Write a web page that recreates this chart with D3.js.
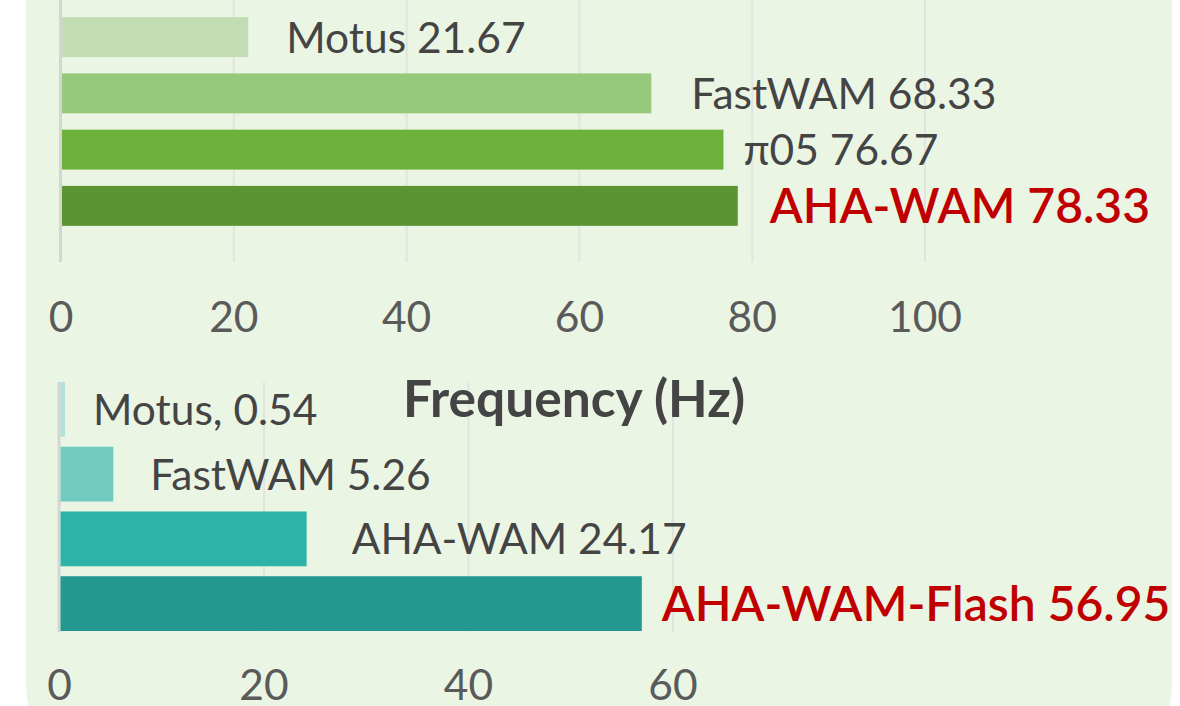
<!DOCTYPE html>
<html>
<head>
<meta charset="utf-8">
<script src="https://cdn.jsdelivr.net/npm/d3@7"></script>
<style>
  body { margin: 0; background: #fff; }
  svg { display: block; font-family: Lato, 'Open Sans', sans-serif; }
</style>
</head>
<body>
<svg class="graph"></svg>
<script>
// top chart: success (%)
const topNames = ['Motus', 'FastWAM', 'π05', 'AHA-WAM'];
const topValues = [21.67, 68.33, 76.67, 78.33];
const topLabels = ['Motus 21.67', 'FastWAM 68.33', 'π05 76.67', 'AHA-WAM 78.33'];
const topColors = ['#c2ddb4', '#96c97b', '#6db13d', '#5b9432'];
const topTicks = [0, 20, 40, 60, 80, 100];

// bottom chart: frequency (Hz)
const botNames = ['Motus', 'FastWAM', 'AHA-WAM', 'AHA-WAM-Flash'];
const botValues = [0.54, 5.26, 24.17, 56.95];
const botLabels = ['Motus, 0.54', 'FastWAM 5.26', 'AHA-WAM 24.17', 'AHA-WAM-Flash 56.95'];
const botColors = ['#b3e0dc', '#72cbc1', '#2db3a7', '#23988e'];
const botTicks = [0, 20, 40, 60];

const axisTitle = 'Frequency (Hz)';

const width = 1180;
const height = 706;
const svg = d3.select('.graph').attr('width', width).attr('height', height);

// panel
svg.append('rect')
  .attr('x', 26).attr('y', -200)
  .attr('width', 1146).attr('height', 985)
  .attr('rx', 100)
  .attr('fill', '#eaf5e3');

function drawChart(opts) {
  const { names, values, labels, colors, ticks, x, yRange, padIn, gridTop, gridBottom, tickY, gaps } = opts;
  const g = svg.append('g');
  const y = d3.scaleBand().domain(names).range(yRange).paddingInner(padIn).paddingOuter(padIn / 2);
  const last = values.length - 1;

  g.selectAll('line.grid')
    .data(ticks.slice(1))
    .enter()
    .append('line')
    .attr('x1', d => x(d)).attr('x2', d => x(d))
    .attr('y1', gridTop).attr('y2', gridBottom)
    .attr('stroke', '#e2e5df')
    .attr('stroke-width', 2);

  g.append('line')
    .attr('x1', x(0) - 0.5).attr('x2', x(0) - 0.5)
    .attr('y1', gridTop).attr('y2', gridBottom)
    .attr('stroke', '#d5d6d2')
    .attr('stroke-width', 3);

  g.selectAll('rect.bar')
    .data(values)
    .enter()
    .append('rect')
    .attr('x', x(0) + 1)
    .attr('y', (d, i) => y(names[i]))
    .attr('width', d => x(d) - x(0) - 1)
    .attr('height', y.bandwidth())
    .attr('fill', (d, i) => colors[i]);

  g.selectAll('text.lbl')
    .data(values)
    .enter()
    .append('text')
    .attr('x', (d, i) => x(d) + gaps[i])
    .attr('y', (d, i) => y(names[i]) + y.bandwidth() / 2 + (i === last ? 17.5 : 15.5))
    .attr('font-size', (d, i) => i === last ? 48 : 42.5)
    .attr('font-weight', (d, i) => i === last ? 600 : 400)
    .attr('fill', (d, i) => i === last ? '#c00000' : '#444')
    .text((d, i) => labels[i]);

  g.selectAll('text.tick')
    .data(ticks)
    .enter()
    .append('text')
    .attr('x', d => x(d))
    .attr('y', tickY)
    .attr('text-anchor', 'middle')
    .attr('font-size', 42.5)
    .attr('fill', '#5a5a5a')
    .text(d => d);
}

drawChart({
  names: topNames, values: topValues, labels: topLabels, colors: topColors, ticks: topTicks,
  x: d3.scaleLinear().domain([0, 100]).range([61, 925]),
  yRange: [9, 234], padIn: 0.29,
  gridTop: -5, gridBottom: 262, tickY: 332,
  gaps: [38, 40, 20, 32]
});

drawChart({
  names: botNames, values: botValues, labels: botLabels, colors: botColors, ticks: botTicks,
  x: d3.scaleLinear().domain([0, 60]).range([59.5, 673]),
  yRange: [377, 636], padIn: 0.154,
  gridTop: 382, gridBottom: 632, tickY: 700,
  gaps: [28, 37, 45, 20]
});

svg.append('text')
  .attr('x', 574)
  .attr('y', 417)
  .attr('text-anchor', 'middle')
  .attr('font-size', 51.5)
  .attr('font-weight', 700)
  .attr('fill', '#444')
  .text(axisTitle);
</script>
</body>
</html>
